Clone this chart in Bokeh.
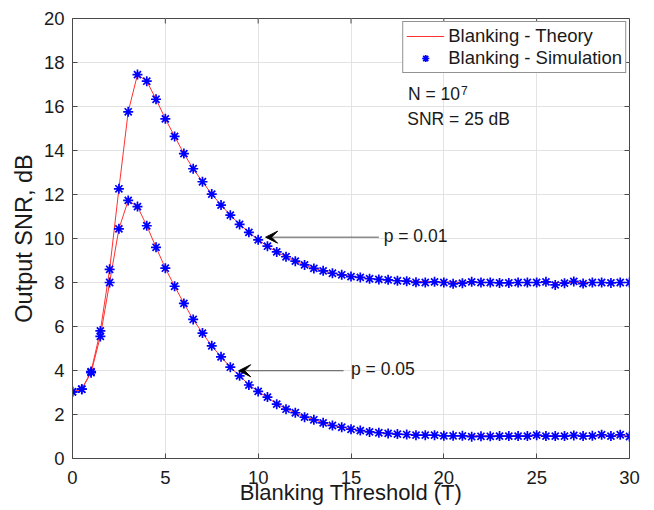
from bokeh.plotting import figure
from bokeh.models import (Range1d, FixedTicker, Legend, LegendItem,
                          Label, Arrow, VeeHead)
from bokeh.embed import file_html
from bokeh.resources import INLINE

# ---------------- data ----------------
threshold = [0.0, 0.5, 1.0, 1.5, 2.0, 2.5, 3.0, 3.5, 4.0, 4.5,
             5.0, 5.5, 6.0, 6.5, 7.0, 7.5, 8.0, 8.5, 9.0, 9.5,
             10.0, 10.5, 11.0, 11.5, 12.0, 12.5, 13.0, 13.5, 14.0, 14.5,
             15.0, 15.5, 16.0, 16.5, 17.0, 17.5, 18.0, 18.5, 19.0, 19.5,
             20.0, 20.5, 21.0, 21.5, 22.0, 22.5, 23.0, 23.5, 24.0, 24.5,
             25.0, 25.5, 26.0, 26.5, 27.0, 27.5, 28.0, 28.5, 29.0, 29.5,
             30.0]

sim_p001 = [3.03, 3.15, 3.95, 5.80, 8.60, 12.26, 15.76, 17.45, 17.15, 16.33,
            15.44, 14.64, 13.86, 13.17, 12.58, 12.02, 11.52, 11.06, 10.64, 10.28,
            9.94, 9.65, 9.39, 9.17, 8.97, 8.80, 8.64, 8.53, 8.42, 8.35,
            8.27, 8.23, 8.17, 8.14, 8.12, 8.08, 8.06, 8.01, 8.00, 8.03,
            8.00, 7.94, 7.97, 8.03, 8.00, 8.00, 7.98, 7.98, 8.00, 8.00,
            8.00, 8.03, 7.89, 7.97, 8.05, 7.95, 8.00, 8.00, 7.98, 8.00,
            8.00]

theory_p001 = [3.03, 3.15, 3.95, 5.80, 8.60, 12.26, 15.76, 17.45, 17.15, 16.33,
               15.44, 14.64, 13.86, 13.17, 12.58, 12.02, 11.52, 11.06, 10.64, 10.28,
               9.94, 9.65, 9.39, 9.17, 8.97, 8.80, 8.64, 8.53, 8.42, 8.35,
               8.28, 8.23, 8.18, 8.14, 8.11, 8.08, 8.06, 8.05, 8.04, 8.03,
               8.02, 8.02, 8.01, 8.01, 8.01, 8.00, 8.00, 8.00, 8.00, 8.00,
               8.00, 8.00, 8.00, 8.00, 8.00, 8.00, 8.00, 8.00, 8.00, 8.00,
               8.00]

sim_p005 = [3.03, 3.15, 3.90, 5.55, 8.00, 10.44, 11.73, 11.45, 10.58, 9.60,
            8.65, 7.83, 7.05, 6.32, 5.70, 5.12, 4.62, 4.15, 3.76, 3.34,
            3.05, 2.79, 2.47, 2.24, 2.08, 1.88, 1.76, 1.62, 1.50, 1.42,
            1.33, 1.27, 1.21, 1.17, 1.14, 1.11, 1.09, 1.06, 1.06, 1.06,
            1.03, 1.03, 1.03, 0.99, 1.01, 1.01, 1.02, 1.02, 1.02, 1.02,
            1.06, 1.02, 1.02, 1.02, 1.05, 1.02, 1.03, 1.08, 1.02, 1.08,
            1.00]

theory_p005 = [3.03, 3.15, 3.90, 5.55, 8.00, 10.44, 11.73, 11.45, 10.58, 9.60,
               8.65, 7.83, 7.05, 6.32, 5.70, 5.12, 4.62, 4.15, 3.76, 3.36,
               3.05, 2.77, 2.49, 2.26, 2.07, 1.90, 1.76, 1.63, 1.51, 1.42,
               1.34, 1.27, 1.22, 1.18, 1.14, 1.11, 1.09, 1.07, 1.06, 1.05,
               1.04, 1.04, 1.03, 1.03, 1.03, 1.03, 1.03, 1.03, 1.03, 1.03,
               1.03, 1.03, 1.03, 1.03, 1.03, 1.03, 1.03, 1.03, 1.03, 1.03,
               1.03]

x_ticks = [0, 5, 10, 15, 20, 25, 30]
y_ticks = [0, 2, 4, 6, 8, 10, 12, 14, 16, 18, 20]

# ---------------- styling ----------------
FONT = "Liberation Sans"
AX = "#4a4a4a"
TXT = "#1a1a1a"
X_MIN, X_MAX, Y_MIN, Y_MAX = 0, 30, 0, 20

p = figure(width=654, height=510, output_backend="svg", toolbar_location=None,
           x_range=Range1d(X_MIN, X_MAX), y_range=Range1d(Y_MIN, Y_MAX),
           min_border_left=72, min_border_right=25, min_border_top=18,
           min_border_bottom=52)
p.outline_line_color = AX
p.outline_line_width = 1
p.background_fill_color = "white"
p.border_fill_color = "white"


def style_axis(ax, ticks):
    ax.ticker = FixedTicker(ticks=ticks)
    ax.major_tick_in = 5
    ax.major_tick_out = 0
    ax.minor_tick_line_color = None
    ax.axis_line_color = AX
    ax.axis_line_width = 1
    ax.major_tick_line_color = AX
    ax.major_label_text_font = FONT
    ax.major_label_text_color = TXT
    ax.major_label_text_font_size = "18.5px"
    ax.axis_label_text_font = FONT
    ax.axis_label_text_font_style = "normal"
    ax.axis_label_text_color = TXT


style_axis(p.xaxis[0], x_ticks)
style_axis(p.yaxis[0], y_ticks)
p.xaxis[0].major_label_standoff = 12
p.yaxis[0].major_label_standoff = 8
p.xaxis[0].axis_label = "Blanking Threshold (T)"
p.yaxis[0].axis_label = "Output SNR, dB"
p.xaxis[0].axis_label_text_font_size = "22px"
p.yaxis[0].axis_label_text_font_size = "23.5px"
p.xaxis[0].axis_label_standoff = -7
p.yaxis[0].axis_label_standoff = 4

# inward ticks on the top and right edges of the box (MATLAB "box on")
tick_dx = (X_MAX - X_MIN) * 5 / 557
tick_dy = (Y_MAX - Y_MIN) * 5 / 440
p.segment(x0=x_ticks, y0=[Y_MAX] * len(x_ticks), x1=x_ticks,
          y1=[Y_MAX - tick_dy] * len(x_ticks), line_color=AX, line_width=1)
p.segment(x0=[X_MAX] * len(y_ticks), y0=y_ticks, x1=[X_MAX - tick_dx] * len(y_ticks),
          y1=y_ticks, line_color=AX, line_width=1)

p.xgrid.ticker = FixedTicker(ticks=x_ticks)
p.ygrid.ticker = FixedTicker(ticks=y_ticks)
for g in (p.xgrid, p.ygrid):
    g.grid_line_color = "#e3e3e3"
    g.grid_line_width = 1

RED = "#ff3030"
BLUE = "#0000ff"

l1 = p.line(threshold, theory_p001, line_color=RED, line_width=1)
l2 = p.line(threshold, theory_p005, line_color=RED, line_width=1)
s1 = p.scatter(threshold, sim_p001, marker="asterisk", size=10,
               line_color=BLUE, line_width=1.7)
s2 = p.scatter(threshold, sim_p005, marker="asterisk", size=10,
               line_color=BLUE, line_width=1.7)

legend = Legend(items=[LegendItem(label="Blanking - Theory", renderers=[l1]),
                       LegendItem(label="Blanking - Simulation", renderers=[s1])],
                location="top_right")
legend.label_text_font = FONT
legend.label_text_font_size = "18.5px"
legend.label_text_color = TXT
legend.border_line_color = "#262626"
legend.border_line_width = 1
legend.background_fill_alpha = 1.0
legend.glyph_width = 38
legend.glyph_height = 18
legend.label_height = 18
legend.label_standoff = 4
legend.spacing = 0
legend.padding = 3
legend.margin = 3
p.add_layout(legend)

# annotations
ANN = 17.5
p.add_layout(Label(x=18.07, y=16.55, text="N = 10", text_font=FONT,
                   text_font_size=f"{ANN}px", text_color=TXT,
                   text_baseline="alphabetic"))
p.add_layout(Label(x=20.93, y=16.73, text="7", text_font=FONT,
                   text_font_size="12px", text_color=TXT,
                   text_baseline="alphabetic"))
p.add_layout(Label(x=18.03, y=15.41, text="SNR = 25 dB", text_font=FONT,
                   text_font_size=f"{ANN}px", text_color=TXT,
                   text_baseline="alphabetic"))

p.add_layout(Arrow(x_start=16.5, y_start=10.06, x_end=10.4, y_end=10.06,
                   line_color="#555555", line_width=1,
                   end=VeeHead(size=12, fill_color="black", line_color="black")))
p.add_layout(Label(x=16.76, y=10.1, text="p = 0.01", text_font=FONT,
                   text_font_size=f"{ANN}px", text_color=TXT,
                   text_baseline="middle"))
p.add_layout(Arrow(x_start=14.6, y_start=3.99, x_end=8.95, y_end=3.99,
                   line_color="#555555", line_width=1,
                   end=VeeHead(size=12, fill_color="black", line_color="black")))
p.add_layout(Label(x=15.0, y=4.09, text="p = 0.05", text_font=FONT,
                   text_font_size=f"{ANN}px", text_color=TXT,
                   text_baseline="middle"))

open("out.html", "w").write(file_html(p, INLINE))
